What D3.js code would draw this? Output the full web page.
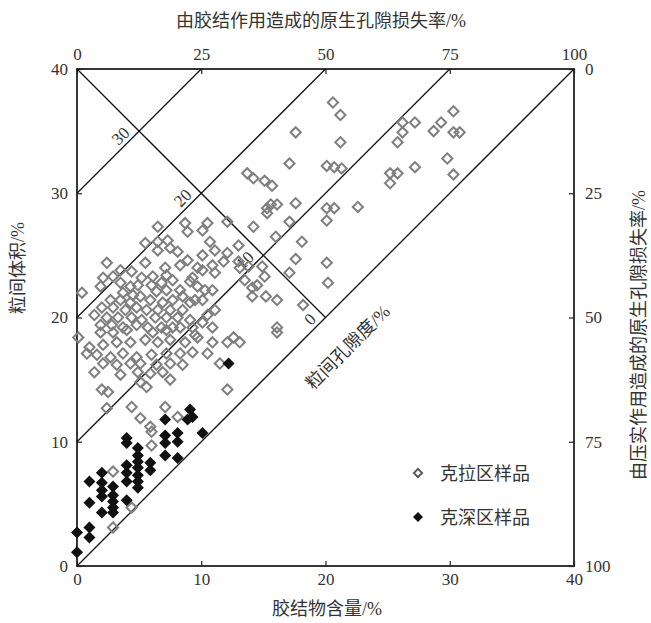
<!DOCTYPE html>
<html>
<head>
<meta charset="utf-8">
<script src="https://cdn.jsdelivr.net/npm/d3@7"></script>
<style>
  body { margin: 0; background: #fff; }
  text { fill: #333; }
</style>
</head>
<body>
<svg id="chart" width="651" height="623"></svg>
<script>
// 克拉区样品 [胶结物含量, 粒间体积]
const klaPoints = [
  [20.6,37.3],[21.2,36.3],[17.6,34.9],[21.2,34.1],[17.1,32.4],[20.1,32.2],[20.7,32.1],[21.3,32.0],
  [13.7,31.6],[14.2,31.2],[15.1,31.0],[15.7,30.6],[15.3,28.8],[15.6,29.1],[16.1,29.1],[17.6,29.2],
  [20.1,28.8],[20.7,28.8],[20.1,27.8],[22.6,28.9],[17.1,27.7],[14.2,27.3],[16.0,26.5],[18.1,26.1],
  [26.2,35.7],[27.2,35.7],[26.2,34.9],[25.8,34.1],[25.2,31.6],[25.8,31.6],[25.2,30.8],[27.2,32.1],
  [30.3,36.6],[29.3,35.7],[28.7,35.0],[30.3,34.9],[30.8,34.9],[29.8,32.8],[30.3,31.5],[15.3,28.4],
  [17.6,24.7],[17.1,23.6],[18.2,21.0],[16.1,21.4],[15.2,21.7],[14.1,21.7],[15.1,23.3],[13.0,25.8],
  [12.1,27.7],[10.5,27.6],[10.1,27.0],[10.7,26.1],[11.1,25.4],[10.1,25.0],[10.1,23.8],[10.9,24.2],
  [11.1,23.6],[12.1,25.2],[11.8,24.5],[13.1,24.0],[13.0,24.5],[13.8,24.1],[13.5,23.0],[14.1,22.4],
  [14.5,22.6],[14.9,24.1],[9.3,23.2],[9.7,22.5],[10.3,22.2],[10.1,21.4],[10.9,22.2],[9.5,21.4],
  [10.5,20.2],[11.1,20.6],[9.3,19.2],[16.1,19.2],[20.1,24.4],[20.2,22.8],
  [6.5,27.3],[8.7,27.6],[8.9,26.9],[5.5,26.0],[6.5,26.1],[7.3,26.2],[7.5,25.6],[6.5,25.4],
  [8.1,25.3],[8.9,24.6],[5.5,24.4],[2.4,24.4],[3.5,23.8],[4.4,23.7],[7.1,24.0],[8.3,24.2],
  [9.7,24.0],[2.9,23.3],[2.1,23.2],[5.2,23.2],[6.1,23.3],[7.2,23.4],[7.7,23.0],[1.9,22.5],
  [0.4,22.0],[3.5,22.8],[4.3,22.5],[4.9,22.6],[6.0,22.6],[6.8,22.8],[3.7,22.0],[4.5,21.8],
  [5.1,21.7],[6.4,22.1],[7.2,22.2],[8.3,22.2],[9.1,22.9],[8.5,21.7],[2.7,21.4],[3.5,21.4],
  [4.3,21.2],[5.9,21.4],[6.9,21.2],[7.7,21.4],[9.1,21.2],[2.0,20.8],[2.9,20.8],[3.9,20.6],
  [4.8,20.8],[5.6,20.6],[6.5,20.6],[7.5,20.6],[8.5,20.6],[1.4,20.2],[2.4,20.0],[3.3,20.0],
  [4.4,20.0],[5.2,19.8],[6.3,20.0],[7.2,20.0],[8.1,20.0],[9.1,19.8],[1.9,19.4],[2.8,19.4],
  [3.7,19.2],[4.8,19.4],[5.7,19.2],[6.8,19.2],[7.7,19.2],
  [0.1,18.4],[1.9,18.8],[2.9,18.8],[4.0,19.0],[6.1,18.8],[7.2,19.0],[8.3,19.2],[1.0,17.6],
  [2.1,17.8],[3.2,18.0],[4.3,18.0],[5.5,18.2],[6.5,18.0],[7.5,18.2],[8.7,18.0],[9.7,18.4],
  [0.8,17.1],[1.6,17.0],[2.7,16.8],[3.7,17.1],[4.8,16.8],[6.0,17.0],[7.2,17.1],[8.3,17.1],
  [9.3,17.2],[2.1,16.3],[3.2,16.2],[4.3,16.3],[5.1,16.3],[6.4,16.2],[7.5,16.3],[8.5,16.2],
  [1.4,15.6],[3.5,15.4],[4.9,15.6],[5.9,15.5],[6.9,15.6],[5.1,14.8],[5.6,14.4],[7.5,15.0],
  [2.0,14.2],[2.5,14.0],[2.4,12.7],[4.4,12.8],[7.1,12.8],[5.1,11.9],[8.1,12.0],[5.9,11.2],
  [6.0,10.8],
  [10.1,19.6],[10.9,19.2],[9.5,18.6],[10.9,18.0],[12.1,18.0],[12.6,18.4],[13.1,18.0],[10.5,17.1],
  [11.5,16.3],[12.1,14.2],[16.1,18.8],
  [6.0,9.7],[2.9,7.6],[4.4,4.7],[2.9,3.1]
];

// 克深区样品
const ksPoints = [
  [12.2,16.3],[9.1,12.6],[9.3,12.0],[7.1,11.8],[8.9,11.8],[10.1,10.7],[4.0,10.3],[7.1,10.5],
  [8.1,10.7],[7.1,9.9],[8.1,10.0],[4.0,9.9],[4.9,9.5],[4.9,8.9],[4.9,8.4],[4.9,7.9],
  [4.9,7.3],[4.9,6.8],[4.9,6.3],[7.1,8.9],[8.1,8.7],[5.9,8.3],[5.9,7.7],[4.0,8.1],
  [4.0,7.5],[4.0,6.8],[2.0,7.5],[1.0,6.8],[2.0,6.7],[2.0,6.1],[2.0,5.6],[2.9,6.4],
  [2.9,5.7],[2.9,5.2],[2.9,4.7],[2.9,4.3],[4.0,5.3],[1.0,5.1],[2.0,4.3],[1.0,3.1],
  [1.0,2.3],[0,2.7],[0,1.1]
];

const xTicks = [0, 10, 20, 30, 40];
const yTicks = [0, 10, 20, 30, 40];
const lossTicks = [0, 25, 50, 75, 100];
const porosityLevels = [0, 10, 20, 30];
const legendNames = ["克拉区样品", "克深区样品"];

const serif = "'Liberation Serif', 'DejaVu Serif', serif";
const cjk = "'Liberation Serif', 'Noto Sans CJK SC', sans-serif";

const margin = {left: 77, right: 77, top: 69, bottom: 57};
const svg = d3.select("#chart");
const W = +svg.attr("width"), H = +svg.attr("height");

const x = d3.scaleLinear().domain([0, 40]).range([margin.left, W - margin.right]);
const y = d3.scaleLinear().domain([0, 40]).range([H - margin.bottom, margin.top]);
const xTop = d3.scaleLinear().domain([0, 100]).range(x.range());
const yRight = d3.scaleLinear().domain([0, 100]).range([margin.top, H - margin.bottom]);

// Axes, ticks point inside the frame
function styleAxis(g) {
  g.select(".domain").remove();
  g.selectAll(".tick line").attr("stroke", "#222").attr("stroke-width", 1.2);
  g.selectAll(".tick text").attr("font-family", serif).attr("font-size", 17).attr("fill", "#333");
}
svg.append("g").attr("transform", `translate(0,${y(0)})`)
  .call(d3.axisBottom(x).tickValues(xTicks).tickSize(-5).tickPadding(7)).call(styleAxis);
svg.append("g").attr("transform", `translate(0,${y(40)})`)
  .call(d3.axisTop(xTop).tickValues(lossTicks).tickSize(-5).tickPadding(9)).call(styleAxis);
svg.append("g").attr("transform", `translate(${x(0)},0)`)
  .call(d3.axisLeft(y).tickValues(yTicks).tickSize(-5).tickPadding(9)).call(styleAxis);
svg.append("g").attr("transform", `translate(${x(40)},0)`)
  .call(d3.axisRight(yRight).tickValues(lossTicks).tickSize(-5).tickPadding(11)).call(styleAxis);

// frame
svg.append("rect")
  .attr("x", x(0)).attr("y", y(40))
  .attr("width", x(40) - x(0)).attr("height", y(0) - y(40))
  .attr("fill", "none").attr("stroke", "#222").attr("stroke-width", 1.8);

// porosity lines: 粒间体积 = 胶结物 + 孔隙度
const line = d3.line().x(d => x(d[0])).y(d => y(d[1]));
const lines = svg.append("g").attr("fill", "none").attr("stroke", "#111").attr("stroke-width", 1.3);
porosityLevels.forEach(p => {
  lines.append("path").attr("d", line([[0, p], [40 - p, 40]]));
});
// cross line from (0,40) down to the zero-porosity line
lines.append("path").attr("d", line([[0, 40], [20, 20]]));

// porosity labels beside each crossing
porosityLevels.forEach(p => {
  const cx = (40 - p) / 2, cy = cx + p;
  svg.append("text")
    .attr("transform", `translate(${x(cx)},${y(cy)}) rotate(-45) translate(-8,-4)`)
    .attr("text-anchor", "end")
    .attr("font-family", serif).attr("font-size", 17)
    .text(p);
});
svg.append("text")
  .attr("transform", `translate(${x(19.7)},${y(19.7)}) rotate(-45) translate(0,43)`)
  .attr("text-anchor", "middle")
  .attr("font-family", cjk).attr("font-size", 18)
  .text("粒间孔隙度/%");

// points
const diamond = d3.symbol().type(d3.symbolSquare);
svg.append("g").selectAll("path").data(klaPoints).join("path")
  .attr("d", diamond.size(52)())
  .attr("transform", d => `translate(${x(d[0])},${y(d[1])}) rotate(45)`)
  .attr("fill", "none").attr("stroke", "#7f7f7f").attr("stroke-width", 2);
svg.append("g").selectAll("path").data(ksPoints).join("path")
  .attr("d", diamond.size(72)())
  .attr("transform", d => `translate(${x(d[0])},${y(d[1])}) rotate(45)`)
  .attr("fill", "#111").attr("stroke", "none");

// legend
const legend = svg.append("g");
legendNames.forEach((name, i) => {
  const ly = 473 + i * 44;
  legend.append("path")
    .attr("d", d3.symbol().type(d3.symbolSquare).size(i === 0 ? 34 : 50)())
    .attr("transform", `translate(418,${ly}) rotate(45)`)
    .attr("fill", i === 0 ? "none" : "#111")
    .attr("stroke", i === 0 ? "#555" : "none").attr("stroke-width", 1.8);
  legend.append("text").attr("x", 440).attr("y", ly + 7)
    .attr("font-family", cjk).attr("font-size", 18).text(name);
});

// axis titles
svg.append("text").attr("x", 321).attr("y", 27).attr("text-anchor", "middle")
  .attr("font-family", cjk).attr("font-size", 18).text("由胶结作用造成的原生孔隙损失率/%");
svg.append("text").attr("x", 327).attr("y", 615).attr("text-anchor", "middle")
  .attr("font-family", cjk).attr("font-size", 18).text("胶结物含量/%");
svg.append("text").attr("transform", "translate(24,268) rotate(-90)").attr("text-anchor", "middle")
  .attr("font-family", cjk).attr("font-size", 18).text("粒间体积/%");
svg.append("text").attr("transform", "translate(645,335) rotate(-90)").attr("text-anchor", "middle")
  .attr("font-family", cjk).attr("font-size", 18).text("由压实作用造成的原生孔隙损失率/%");
</script>
</body>
</html>
